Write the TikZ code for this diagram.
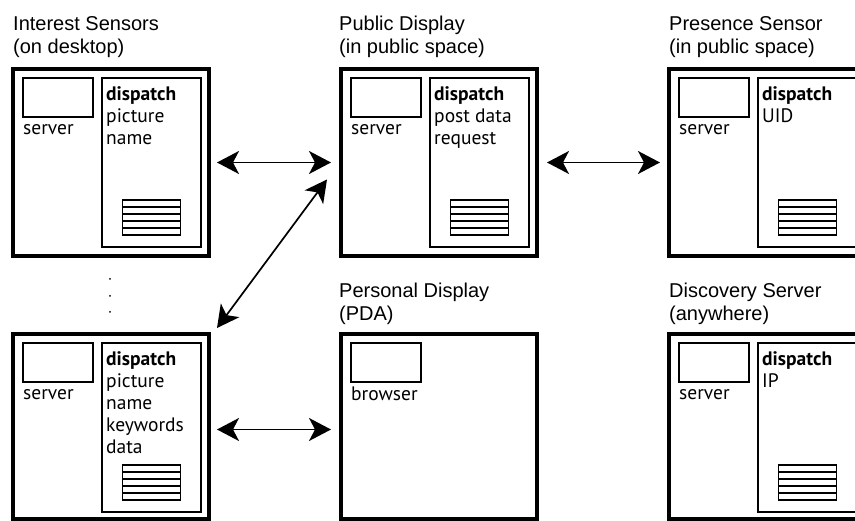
\documentclass[tikz,border=0pt]{standalone}
\usepackage{fontspec}
\newfontfamily\titlefont{Liberation Sans}
\newfontfamily\boxfont{PT Sans}
\usetikzlibrary{positioning,calc,arrows.meta}

\begin{document}
\begin{tikzpicture}
    [
        x = 1pt, y = -1pt,
        device/.style = {draw, line width=4.5pt, minimum width=196pt, minimum height=187pt, inner sep=0pt, outer sep=0pt},
        srvbox/.style = {draw, line width=1.8pt, minimum width=70pt, minimum height=39pt, inner sep=0pt, outer sep=0pt},
        dispbox/.style = {draw, line width=1.8pt, minimum width=99pt, minimum height=169pt, inner sep=0pt, outer sep=0pt},
        stackbox/.style = {draw, line width=1.6pt, minimum width=58pt, minimum height=35pt, inner sep=0pt, outer sep=0pt},
        devtitle/.style = {font=\titlefont\fontsize{20}{23}\selectfont, align=left, inner sep=0pt},
        srvtext/.style = {font=\boxfont\fontsize{19.5}{22}\selectfont, inner sep=0pt},
        disptext/.style = {font=\boxfont\fontsize{19.5}{22}\selectfont, align=left, inner sep=0pt},
        arr/.style = {{Stealth[length=22pt, width=23pt, inset=6pt]}-{Stealth[length=22pt, width=23pt, inset=6pt]}, line width=1.7pt}
    ]

        \useasboundingbox (0,0) rectangle (855,521);
        \clip (0,0) rectangle (855,521);

        % the six devices
        \node[device, anchor=north west] (interest) at (13,69) {};
        \node[device, right=132pt of interest] (public) {};
        \node[device, right=132pt of public] (presence) {};
        \node[device, minimum height=185pt, below=78pt of interest] (interest2) {};
        \node[device, minimum height=185pt, right=132pt of interest2] (personal) {};
        \node[device, minimum height=185pt, right=132pt of personal] (discovery) {};

        \node[devtitle, above right=11pt and 0pt of interest.north west] (interest-title) {Interest Sensors\\(on desktop)};
        \node[devtitle, above right=11pt and -2pt of public.north west] (public-title) {Public Display\\(in public space)};
        \node[devtitle, above right=11pt and 0pt of presence.north west] (presence-title) {Presence Sensor\\(in public space)};
        \node[devtitle, above right=9pt and -2pt of personal.north west] (personal-title) {Personal Display\\(PDA)};
        \node[devtitle, above right=9pt and 0pt of discovery.north west] (discovery-title) {Discovery Server\\(anywhere)};

        % servers and browser
        \node[srvbox, below right=9pt and 10pt of interest.north west] (interest-srv) {};
        \node[srvbox, below right=9pt and 10pt of public.north west] (public-srv) {};
        \node[srvbox, below right=9pt and 10pt of presence.north west] (presence-srv) {};
        \node[srvbox, below right=9pt and 10pt of interest2.north west] (interest2-srv) {};
        \node[srvbox, below right=9pt and 10pt of personal.north west] (personal-srv) {};
        \node[srvbox, below right=9pt and 10pt of discovery.north west] (discovery-srv) {};

        \node[srvtext, anchor=base west] (interest-srvname) at ([yshift=-18pt]interest-srv.south west) {server};
        \node[srvtext, anchor=base west] (public-srvname) at ([yshift=-18pt]public-srv.south west) {server};
        \node[srvtext, anchor=base west] (presence-srvname) at ([yshift=-18pt]presence-srv.south west) {server};
        \node[srvtext, anchor=base west] (interest2-srvname) at ([yshift=-18pt]interest2-srv.south west) {server};
        \node[srvtext, anchor=base west] (personal-srvname) at ([yshift=-18.5pt]personal-srv.south west) {browser};
        \node[srvtext, anchor=base west] (discovery-srvname) at ([yshift=-18pt]discovery-srv.south west) {server};

        % dispatch boxes
        \node[dispbox, below right=9pt and 89pt of interest.north west] (interest-disp) {};
        \node[dispbox, below right=9pt and 89pt of public.north west] (public-disp) {};
        \node[dispbox, below right=9pt and 89pt of presence.north west] (presence-disp) {};
        \node[dispbox, below right=9pt and 89pt of interest2.north west] (interest2-disp) {};
        \node[dispbox, below right=9pt and 89pt of discovery.north west] (discovery-disp) {};

        \node[disptext, below right=8pt and 4pt of interest-disp.north west] (interest-list) {\textbf{dispatch}\\picture\\name};
        \node[disptext, below right=8pt and 4pt of public-disp.north west] (public-list) {\textbf{dispatch}\\post data\\request};
        \node[disptext, below right=8pt and 4pt of presence-disp.north west] (presence-list) {\textbf{dispatch}\\UID};
        \node[disptext, below right=8pt and 4pt of interest2-disp.north west] (interest2-list) {\textbf{dispatch}\\picture\\name\\keywords\\data};
        \node[disptext, below right=8pt and 4pt of discovery-disp.north west] (discovery-list) {\textbf{dispatch}\\IP};

        \node[stackbox, above=12pt of interest-disp.south] (interest-stack) {};
        \node[stackbox, above=12pt of public-disp.south] (public-stack) {};
        \node[stackbox, above=12pt of presence-disp.south] (presence-stack) {};
        \node[stackbox, above=12pt of interest2-disp.south] (interest2-stack) {};
        \node[stackbox, above=12pt of discovery-disp.south] (discovery-stack) {};

        \foreach \s in {interest,public,presence,interest2,discovery}
            \foreach \i in {1,...,4}
                \draw[line width=1.6pt] ($(\s-stack.north west)!\i/5!(\s-stack.south west)$) -- ($(\s-stack.north east)!\i/5!(\s-stack.south east)$);

        % more sensors
        \foreach \y in {279,296,312}
            \fill (110,\y) circle (1pt);

        % links
        \draw[arr, shorten <=8pt, shorten >=10pt] (interest) -- (public);
        \draw[arr, shorten <=10pt, shorten >=9pt] (public) -- (presence);
        \draw[arr] ([shift={(8pt,6pt)}]interest2.north east) -- ([shift={(-14pt,-17pt)}]public.west);
        \draw[arr, shorten <=8pt, shorten >=10pt] ([yshift=-3pt]interest2.east) -- ([yshift=-3pt]personal.west);
    \end{tikzpicture}
\end{document}
